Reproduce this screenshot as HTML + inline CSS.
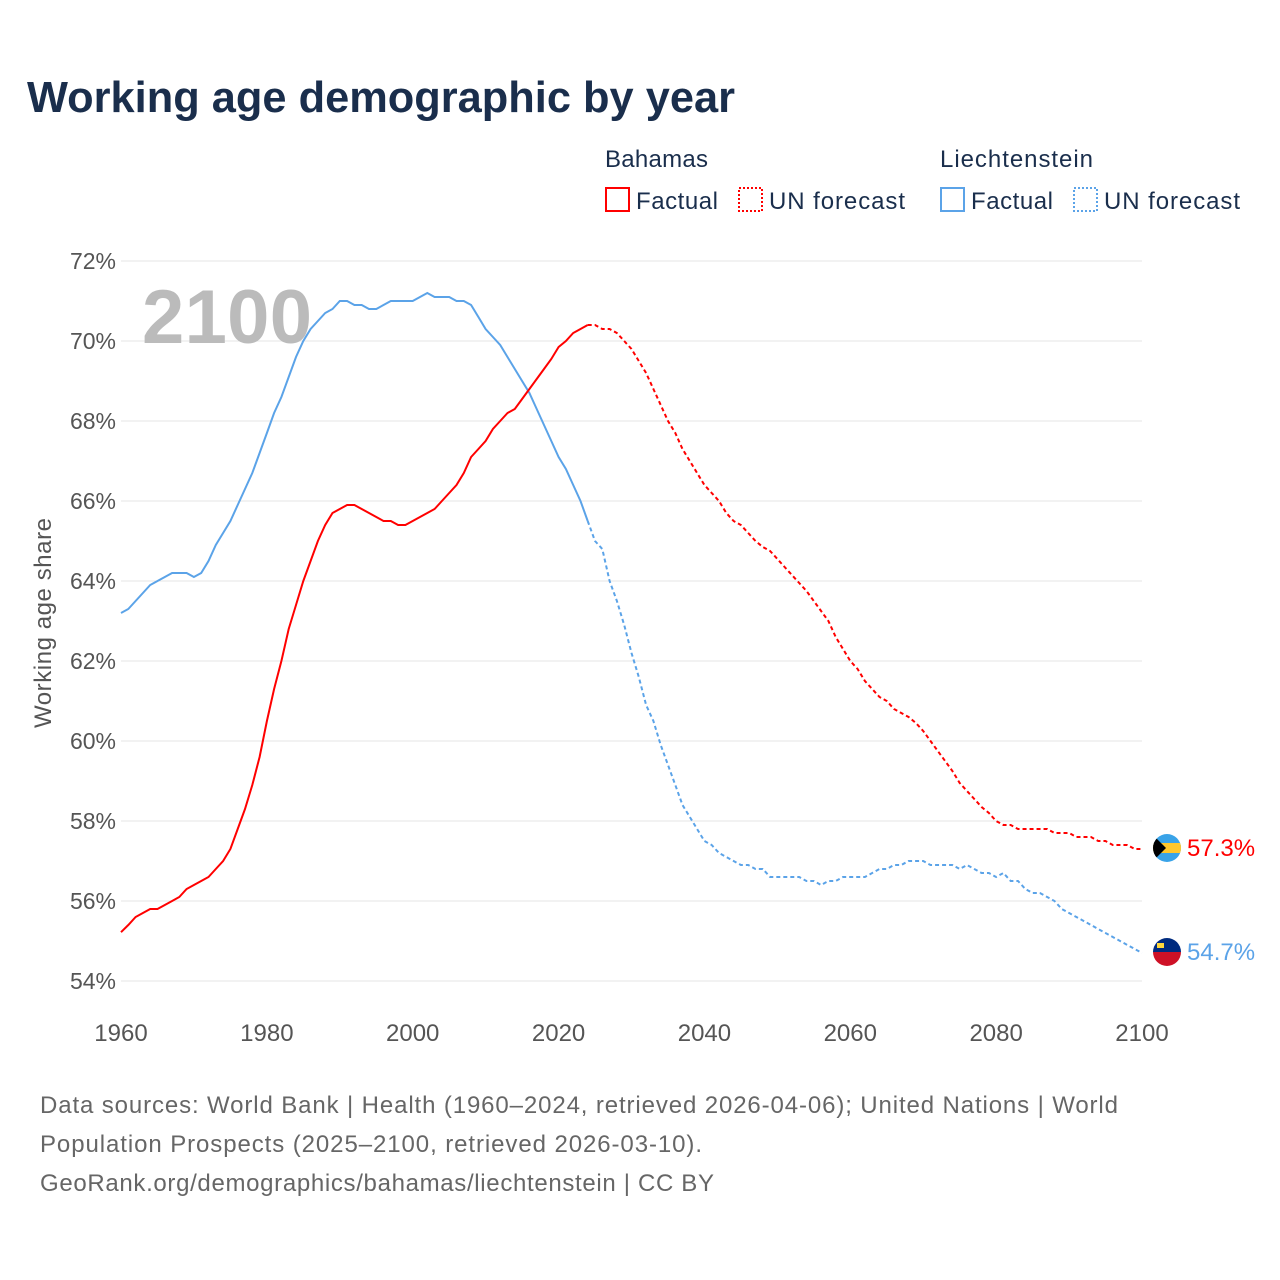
<!DOCTYPE html>
<html><head><meta charset="utf-8"><style>
body{margin:0;background:#fff;font-family:"Liberation Sans",sans-serif;}
#wrap{position:relative;width:1280px;height:1280px;overflow:hidden;}
</style></head><body>
<div id="wrap">
<svg id="chart" width="1280" height="1280" xmlns="http://www.w3.org/2000/svg">
<text x="27" y="112" font-size="44" font-weight="bold" fill="#1a2e4c" textLength="708" lengthAdjust="spacingAndGlyphs">Working age demographic by year</text>
<g font-size="24" fill="#1a2e4c">
<text x="605" y="167" textLength="103">Bahamas</text>
<text x="940" y="167" textLength="153">Liechtenstein</text>
<rect x="606" y="188" width="23" height="23" fill="none" stroke="#f00" stroke-width="2"/>
<text x="636" y="209" textLength="82">Factual</text>
<rect x="739" y="188" width="23" height="23" fill="none" stroke="#f00" stroke-width="2" stroke-dasharray="2,2"/>
<text x="769" y="209" textLength="136">UN forecast</text>
<rect x="941" y="188" width="23" height="23" fill="none" stroke="#5ba3e8" stroke-width="2"/>
<text x="971" y="209" textLength="82">Factual</text>
<rect x="1074" y="188" width="23" height="23" fill="none" stroke="#5ba3e8" stroke-width="2" stroke-dasharray="2,2"/>
<text x="1104" y="209" textLength="136">UN forecast</text>
</g>
<g id="grid"></g>
<text x="142" y="343" font-size="76" font-weight="bold" fill="#bbb" textLength="170">2100</text>
<text transform="translate(51,623) rotate(-90)" text-anchor="middle" font-size="24" fill="#555" textLength="210">Working age share</text>
<g id="series"></g>
<g>
<clipPath id="c1"><circle cx="1167" cy="848" r="14"/></clipPath>
<g clip-path="url(#c1)"><rect x="1150" y="834" width="34" height="28" fill="#39a3e8"/><rect x="1150" y="843" width="34" height="10" fill="#ffc72c"/><polygon points="1152,834 1166,848 1152,862" fill="#000"/></g>
</g>
<g>
<clipPath id="c2"><circle cx="1167" cy="952" r="14"/></clipPath>
<g clip-path="url(#c2)"><rect x="1150" y="938" width="34" height="14" fill="#002b7f"/><rect x="1150" y="952" width="34" height="14" fill="#ce1126"/><rect x="1157" y="943" width="7" height="5" fill="#ffd83d"/></g>
</g>
<text id="lblB" x="1187" y="856" font-size="24" fill="#f00">57.3%</text>
<text id="lblL" x="1187" y="960" font-size="24" fill="#5ba3e8">54.7%</text>
<g font-size="24" fill="#666">
<text x="40" y="1113" textLength="1078">Data sources: World Bank | Health (1960–2024, retrieved 2026-04-06); United Nations | World</text>
<text x="40" y="1152" textLength="662">Population Prospects (2025–2100, retrieved 2026-03-10).</text>
<text x="40" y="1191" textLength="674">GeoRank.org/demographics/bahamas/liechtenstein | CC BY</text>
</g>
</svg>
</div>
<script>
const yTicks=[54,56,58,60,62,64,66,68,70,72];
const xTicks=[1960,1980,2000,2020,2040,2060,2080,2100];
const startYear=1960;
const lastFactualYear=2024;
const bahamas=[55.22,55.4,55.6,55.7,55.8,55.8,55.9,56.0,56.1,56.3,56.4,56.5,56.6,56.8,57.0,57.3,57.8,58.3,58.9,59.6,60.5,61.3,62.0,62.8,63.4,64.0,64.5,65.0,65.4,65.7,65.8,65.9,65.9,65.8,65.7,65.6,65.5,65.5,65.4,65.4,65.5,65.6,65.7,65.8,66.0,66.2,66.4,66.7,67.1,67.3,67.5,67.8,68.0,68.2,68.3,68.55,68.8,69.05,69.3,69.55,69.85,70.0,70.2,70.3,70.4,70.4,70.3,70.3,70.2,70.0,69.8,69.5,69.2,68.8,68.4,68.0,67.7,67.3,67.0,66.7,66.4,66.2,66.0,65.7,65.5,65.4,65.2,65.0,64.85,64.75,64.55,64.35,64.15,63.95,63.75,63.5,63.25,63.0,62.6,62.3,62.0,61.8,61.5,61.3,61.1,61.0,60.8,60.7,60.6,60.45,60.25,60.0,59.75,59.5,59.25,58.95,58.75,58.55,58.35,58.2,58.0,57.9,57.9,57.8,57.8,57.8,57.8,57.8,57.7,57.7,57.7,57.6,57.6,57.6,57.5,57.5,57.4,57.4,57.4,57.3,57.3];
const liechtenstein=[63.2,63.3,63.5,63.7,63.9,64.0,64.1,64.2,64.2,64.2,64.1,64.2,64.5,64.9,65.2,65.5,65.9,66.3,66.7,67.2,67.7,68.2,68.6,69.1,69.6,70.0,70.3,70.5,70.7,70.8,71.0,71.0,70.9,70.9,70.8,70.8,70.9,71.0,71.0,71.0,71.0,71.1,71.2,71.1,71.1,71.1,71.0,71.0,70.9,70.6,70.3,70.1,69.9,69.6,69.3,69.0,68.7,68.3,67.9,67.5,67.1,66.8,66.4,66.0,65.5,65.0,64.8,64.0,63.5,62.9,62.2,61.6,60.9,60.5,59.9,59.4,58.9,58.4,58.1,57.8,57.5,57.4,57.2,57.1,57.0,56.9,56.9,56.8,56.8,56.6,56.6,56.6,56.6,56.6,56.5,56.5,56.4,56.5,56.5,56.6,56.6,56.6,56.6,56.7,56.8,56.8,56.9,56.9,57.0,57.0,57.0,56.9,56.9,56.9,56.9,56.8,56.9,56.8,56.7,56.7,56.6,56.7,56.5,56.5,56.3,56.2,56.2,56.1,56.0,55.8,55.7,55.6,55.5,55.4,55.3,55.2,55.1,55.0,54.9,54.8,54.7];
const NS="http://www.w3.org/2000/svg";
const X=y=>121+(y-1960)*(1142-121)/140;
const Y=v=>981-(v-54)*40;
const grid=document.getElementById('grid');
yTicks.forEach(t=>{
 const l=document.createElementNS(NS,'line');
 l.setAttribute('x1',121);l.setAttribute('x2',1142);l.setAttribute('y1',Y(t));l.setAttribute('y2',Y(t));
 l.setAttribute('stroke','#e6e6e6');l.setAttribute('stroke-width','1');
 
 
 grid.appendChild(l);
 const tx=document.createElementNS(NS,'text');
 tx.setAttribute('x',116);tx.setAttribute('y',Y(t)+8);tx.setAttribute('text-anchor','end');
 tx.setAttribute('font-size','23');tx.setAttribute('fill','#555');tx.textContent=t+'%';
 
 
 grid.appendChild(tx);
});
xTicks.forEach(t=>{
 const tx=document.createElementNS(NS,'text');
 tx.setAttribute('x',X(t));tx.setAttribute('y',1041);tx.setAttribute('text-anchor','middle');
 tx.setAttribute('font-size','24');tx.setAttribute('fill','#555');tx.textContent=t;
 
 
 grid.appendChild(tx);
});
const series=document.getElementById('series');
function draw(vals,color,name){
 const k=lastFactualYear-startYear;
 const pts=vals.map((v,i)=>X(startYear+i).toFixed(1)+','+Y(v).toFixed(1));
 const a=document.createElementNS(NS,'polyline');
 a.setAttribute('points',pts.slice(0,k+1).join(' '));
 a.setAttribute('fill','none');a.setAttribute('stroke',color);a.setAttribute('stroke-width','2');
 
 
 series.appendChild(a);
 const b=document.createElementNS(NS,'polyline');
 b.setAttribute('points',pts.slice(k).join(' '));
 b.setAttribute('fill','none');b.setAttribute('stroke',color);b.setAttribute('stroke-width','2');b.setAttribute('stroke-dasharray','4,3');
 
 
 series.appendChild(b);
}
draw(liechtenstein,'#5ba3e8','liechtenstein');
draw(bahamas,'#f00','bahamas');
document.getElementById('lblB').textContent=bahamas[bahamas.length-1].toFixed(1)+'%';
document.getElementById('lblL').textContent=liechtenstein[liechtenstein.length-1].toFixed(1)+'%';
</script>
</body></html>
